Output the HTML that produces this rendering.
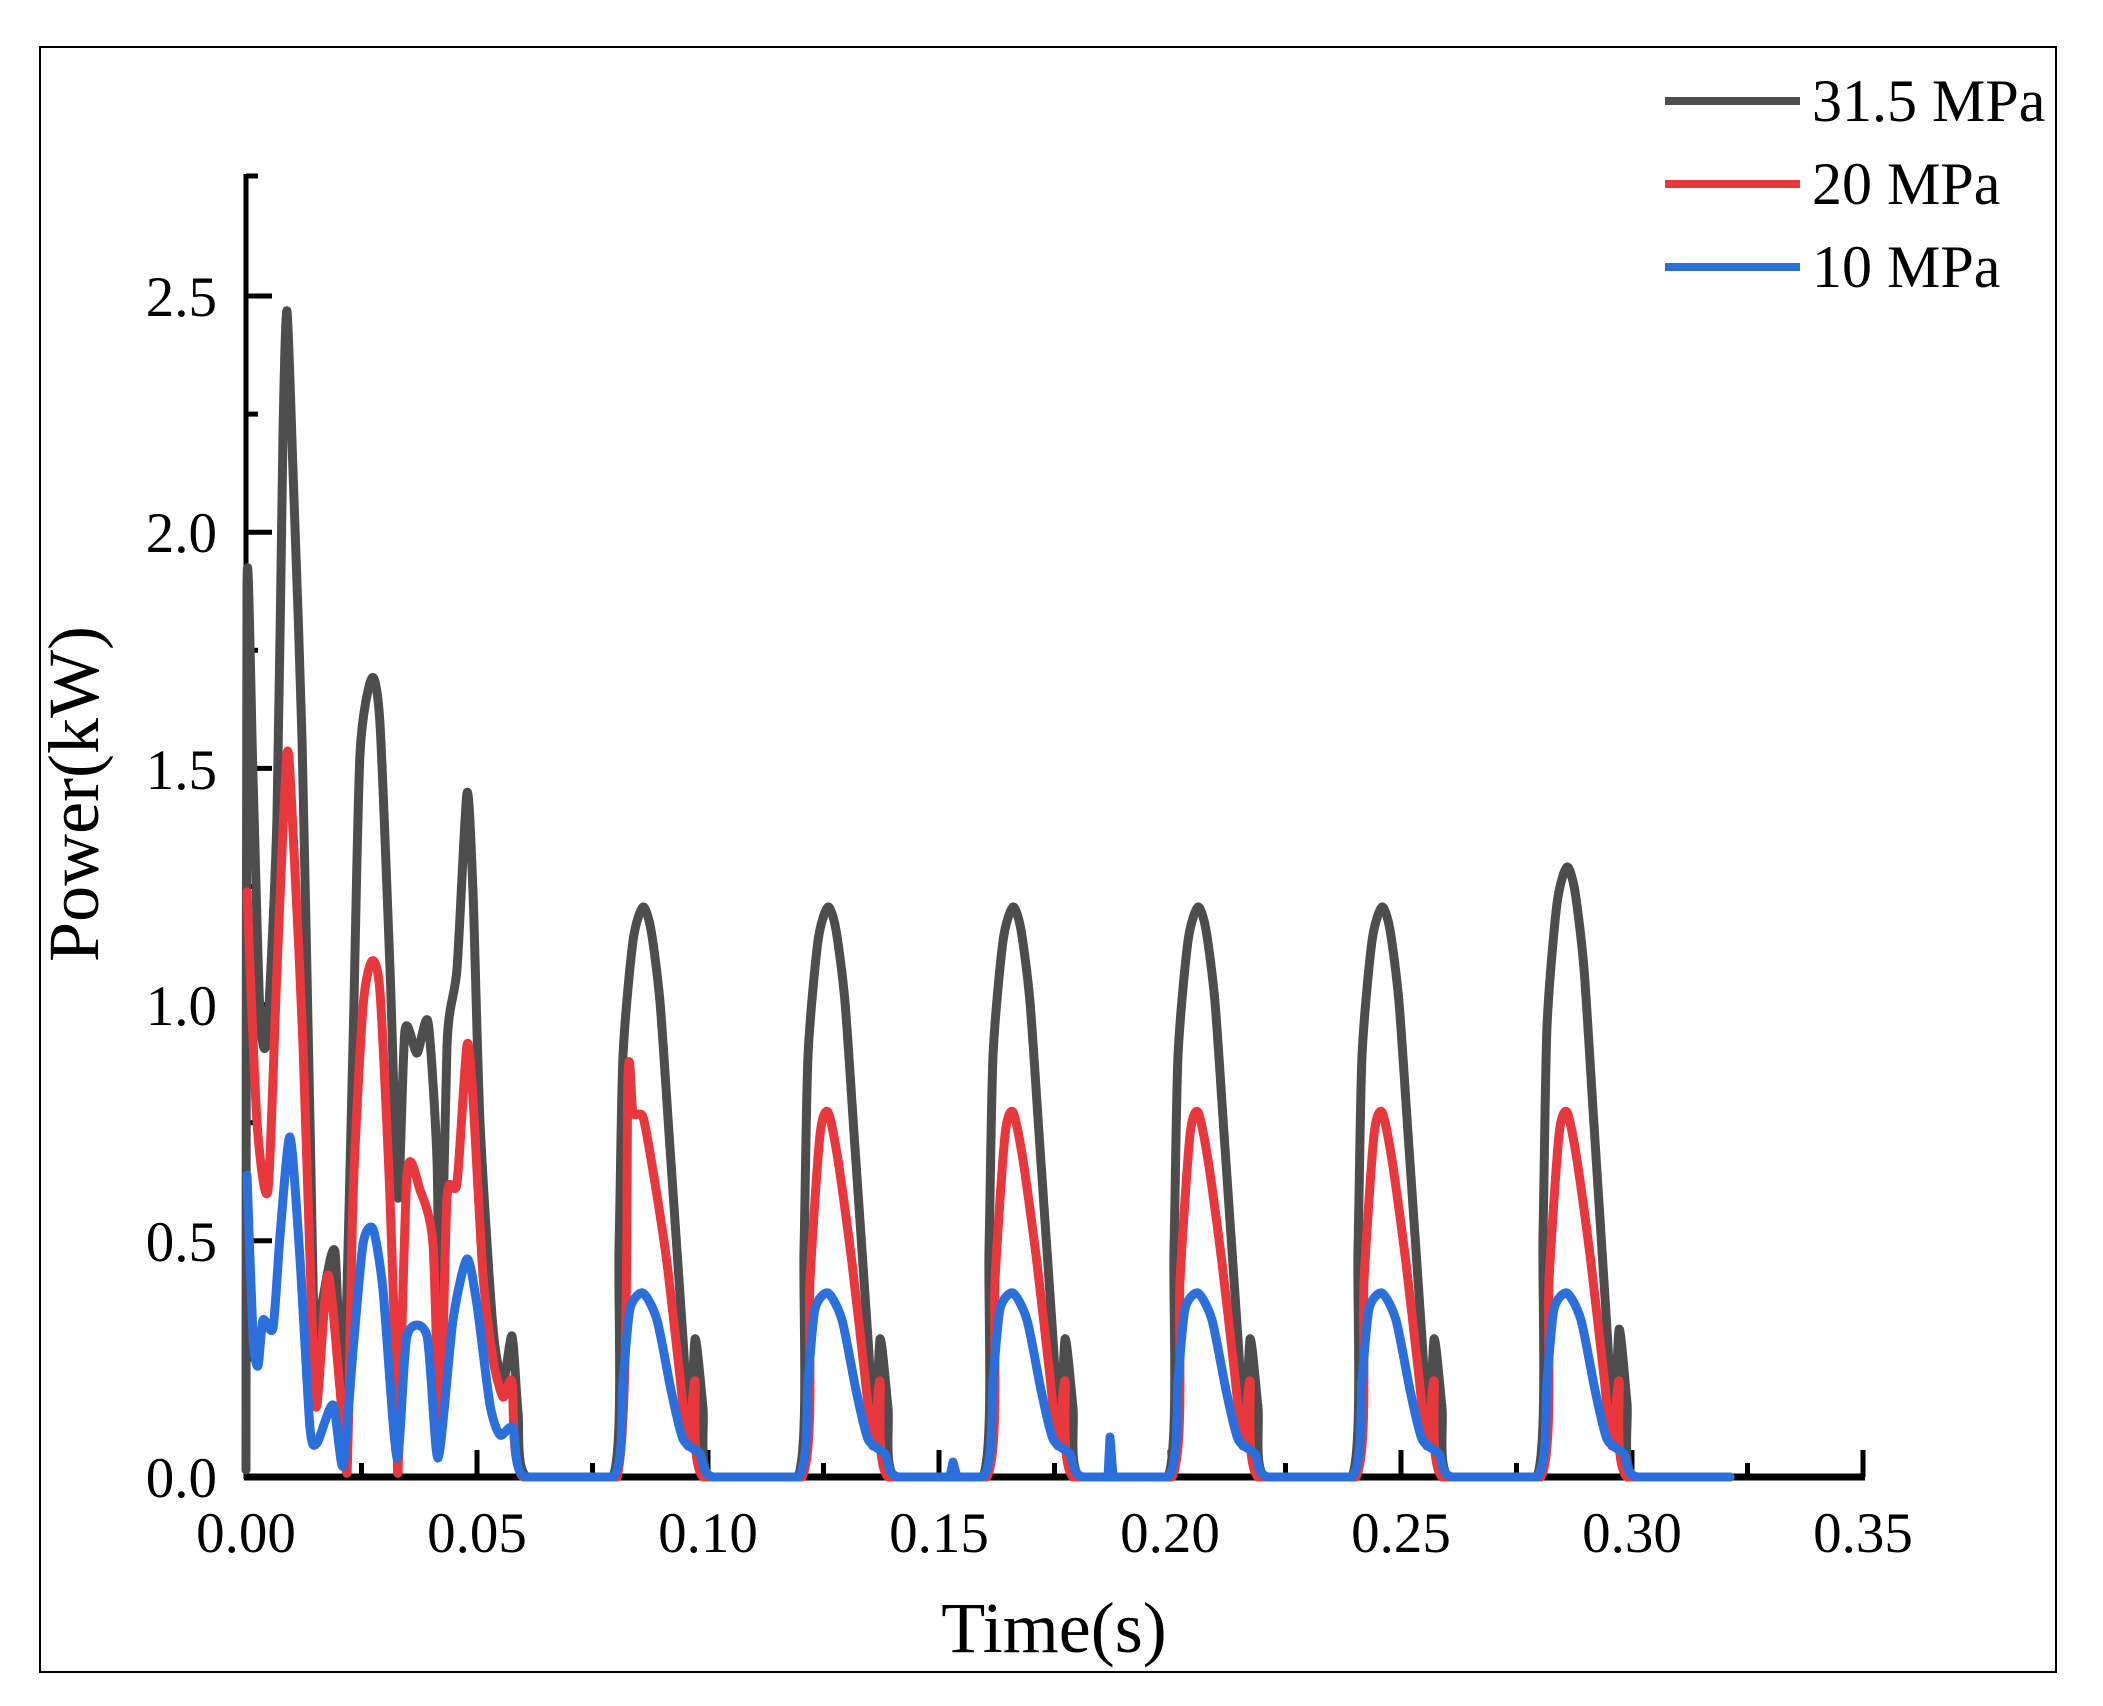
<!DOCTYPE html>
<html><head><meta charset="utf-8"><style>
html,body{margin:0;padding:0;background:#fff;}
svg{display:block;font-family:"Liberation Serif",serif;}
</style></head><body>
<svg id="s" width="2103" height="1706" viewBox="0 0 2103 1706" xmlns="http://www.w3.org/2000/svg">
<rect x="40" y="47" width="2016" height="1625" fill="none" stroke="#000" stroke-width="2"/>
<g id="ax" stroke="#000" stroke-width="5" fill="none"></g>
<g id="lines" fill="none" stroke-width="9" stroke-linejoin="round" stroke-linecap="round"></g>
<g font-size="57" fill="#000" text-anchor="end">
<text x="217" y="1497">0.0</text>
<text x="217" y="1261">0.5</text>
<text x="217" y="1025">1.0</text>
<text x="217" y="789">1.5</text>
<text x="217" y="552">2.0</text>
<text x="217" y="316">2.5</text>
</g>
<g font-size="57" fill="#000" text-anchor="middle" id="xl"></g>
<text x="1054" y="1652" font-size="72" text-anchor="middle">Time(s)</text>
<text transform="translate(98,794) rotate(-90)" font-size="72" text-anchor="middle">Power(kW)</text>
<g stroke-width="8">
<line x1="1665" y1="101" x2="1800" y2="101" stroke="#4d4d4d"/>
<line x1="1665" y1="184" x2="1800" y2="184" stroke="#e8383d"/>
<line x1="1665" y1="267" x2="1800" y2="267" stroke="#2a6fdb"/>
</g>
<g font-size="60" fill="#000">
<text x="1812" y="121">31.5 MPa</text>
<text x="1812" y="204">20 MPa</text>
<text x="1812" y="287">10 MPa</text>
</g>
</svg>
<script>
var NS="http://www.w3.org/2000/svg";
function el(p,t,a){var e=document.createElementNS(NS,t);for(var k in a)e.setAttribute(k,a[k]);p.appendChild(e);return e;}
var ax=document.getElementById('ax');
el(ax,'line',{x1:246,y1:174,x2:246,y2:1479});
el(ax,'line',{x1:244,y1:1477,x2:1865,y2:1477,'stroke-width':7});
for(var i=0;i<=10;i++){var y=1477-i*118.1;el(ax,'line',{x1:246,y1:y,x2:i%2?258:272,y2:y});}
el(ax,'line',{x1:246,y1:176,x2:258,y2:176});
var xl=document.getElementById('xl');
for(var i=0;i<=14;i++){var x=246+i*115.5;el(ax,'line',{x1:x,y1:1477,x2:x,y2:i%2?1463:1450});
 if(i%2==0){var t=el(xl,'text',{x:x,y:1552});t.textContent=(i*0.025).toFixed(2);}}
var Y0=1477;
var K=[[246,1470],[247,586],[253,777],[260,1014],[267,1037],[277,816],[283,433],[287,311],[293,471],[302,739],[310,1122],[315,1351],[323,1298],[335,1252],[343,1412],[353,1045],[360,754],[372,678],[380,724],[390,969],[398,1198],[405,1030],[417,1053],[428,1022],[437,1160],[440,1351],[447,1045],[457,969],[467,793],[473,892],[480,1122],[493,1328],[503,1382],[512,1336],[518,1412],[527,1477]];
var R=[[247,892],[257,1122],[268,1190],[277,969],[287,754],[293,831],[303,1045],[313,1351],[317,1405],[328,1275],[340,1389],[347,1473],[353,1198],[363,1007],[372,961],[380,992],[390,1198],[397,1412],[398,1473],[407,1175],[420,1190],[433,1244],[440,1443],[447,1198],[457,1183],[467,1045],[473,1099],[483,1275],[493,1359],[503,1397],[512,1382],[523,1477]];
var B=[[247,1175],[253,1336],[258,1366],[263,1320],[273,1328],[280,1236],[290,1137],[300,1259],[310,1428],[317,1443],[333,1405],[343,1466],[353,1351],[363,1244],[373,1229],[383,1290],[397,1458],[407,1336],[427,1336],[438,1458],[453,1320],[467,1259],[477,1305],[490,1405],[500,1435],[513,1428],[525,1477]];
var pk=[643,828,1013,1198,1382,1567];
var kp=[[-30,1477],[-24,1250],[-20,1056],[-10,941],[0,907],[8,930],[17,1002],[27,1148],[40,1339],[47,1443],[52,1339],[60,1408],[67,1477]];
var rp=[[-26,1477],[-15,1075],[-10,1113],[0,1117],[10,1171],[24,1263],[37,1377],[45,1446],[52,1381],[60,1477]];
var rp2=[[-26,1477],[-18,1280],[-8,1135],[0,1112],[10,1160],[24,1263],[37,1377],[45,1446],[52,1381],[60,1477]];
var bp=[[-30,1477],[-20,1380],[-13,1309],[0,1293],[14,1320],[28,1390],[40,1439],[57,1454],[70,1477]];
function pulses(base,pat,alt,endx,scaleTop){
 var a=base.slice();
 pk.forEach(function(p,i){var pp=(alt&&i>0)?alt:pat;
  pp.forEach(function(q){var y=q[1];if(scaleTop&&i==5)y=Y0-(Y0-y)*1.07;a.push([p+q[0],y]);});});
 a.push([endx,Y0]);return a;}
var k=pulses(K,kp,null,1730,true);
var r=pulses(R,rp,rp2,1730,false);
var b=pulses(B,bp,null,1730,false);
function d(a){var s='M'+a[0][0]+','+a[0][1];var t=0.12;
 for(var i=0;i<a.length-1;i++){var p0=a[Math.max(0,i-1)],p1=a[i],p2=a[i+1],p3=a[Math.min(a.length-1,i+2)];
  var c1x=p1[0]+(p2[0]-p0[0])*t,c1y=p1[1]+(p2[1]-p0[1])*t,c2x=p2[0]-(p3[0]-p1[0])*t,c2y=p2[1]-(p3[1]-p1[1])*t;
  c1y=Math.min(c1y,Y0);c2y=Math.min(c2y,Y0);
  s+=' C'+c1x.toFixed(1)+','+c1y.toFixed(1)+' '+c2x.toFixed(1)+','+c2y.toFixed(1)+' '+p2[0]+','+p2[1];}
 return s;}
var g=document.getElementById('lines');
el(g,'path',{d:d(k),stroke:'#4d4d4d'});
el(g,'path',{d:d(r),stroke:'#e8383d'});
el(g,'path',{d:d(b),stroke:'#2a6fdb'});
el(g,'path',{d:'M950,1477 L953,1462 L957,1477 M1108,1477 L1110,1437 L1113,1477',stroke:'#2a6fdb'});
</script>
</body></html>
